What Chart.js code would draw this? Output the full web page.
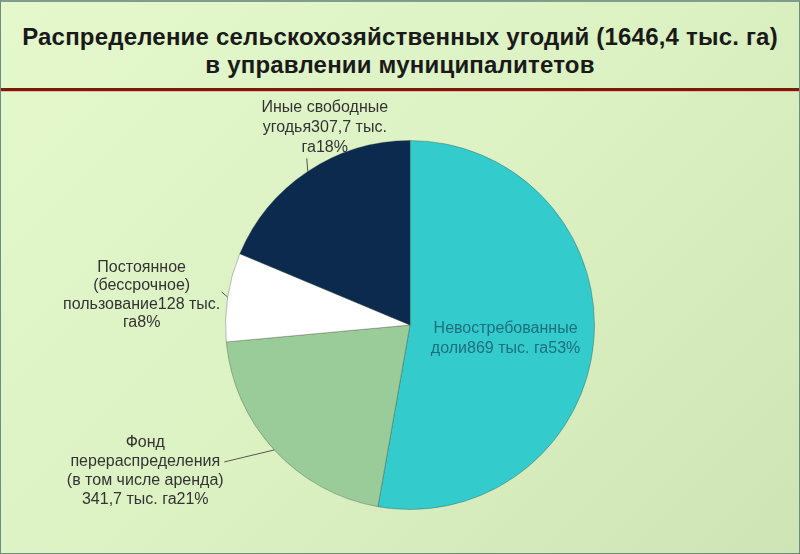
<!DOCTYPE html>
<html><head><meta charset="utf-8">
<script src="https://cdn.jsdelivr.net/npm/chart.js@4"></script>
<style>
html,body{margin:0;padding:0;}
body{width:800px;height:554px;position:relative;overflow:hidden;
 background:linear-gradient(135deg,#e4f8cc 0%,#dcf2c3 50%,#cfe4b4 100%);font-family:"Liberation Sans",Arial,sans-serif;}
#frame{position:absolute;left:0;top:0;width:798px;height:551px;border-left:1px solid #6f8c80;border-right:1px solid #6f8c80;border-top:2px solid #7f9c8c;border-bottom:2px solid #6f8c80;pointer-events:none;}
#title{position:absolute;left:0;top:23px;width:800px;text-align:center;font-weight:bold;font-size:24px;line-height:28px;color:#1a1a1a;letter-spacing:0.2px;}
#rule{position:absolute;left:1px;top:88px;width:798px;height:3px;background:#7a1a08;border-bottom:1px solid #e8b8a0;}
#c{position:absolute;left:0;top:0;}
</style></head>
<body>
<div id="title">Распределение сельскохозяйственных угодий (1646,4 тыс. га)<br>в управлении муниципалитетов</div>
<div id="rule"></div>
<canvas id="c" width="800" height="554"></canvas>
<div id="frame"></div>
<script>
const categories = ["Невостребованные доли", "Фонд перераспределения (в том числе аренда)", "Постоянное (бессрочное) пользование", "Иные свободные угодья"];
const values = [869, 341.7, 128, 307.7];
const percents = [53, 21, 8, 18];
const labelLines = [
  ["Невостребованные", "доли869 тыс. га53%"],
  ["Фонд", "перераспределения", "(в том числе аренда)", "341,7 тыс. га21%"],
  ["Постоянное", "(бессрочное)", "пользование128 тыс.", "га8%"],
  ["Иные свободные", "угодья307,7 тыс.", "га18%"]
];
const colors = ["#33cbcc", "#99cc99", "#ffffff", "#0b2a4e"];

// label placement relative to the slice's outer edge point at its mid angle
const labelLayout = [
  {inside:true, rf:0.52, dy:5, lh:20, color:"#1d6f80"},
  {tx:-129, ty:21, lx:-50, ly:12, lh:19, color:"#333333"},
  {tx:-86, ty:-2, lx:-6, ly:-5, lh:18.5, color:"#333333"},
  {tx:17, ty:-44, lx:-1, ly:-13, lh:20, color:"#333333"}
];

const labelPlugin = {
  id:'sliceLabels',
  afterDatasetsDraw(chart){
    const ctx = chart.ctx;
    const meta = chart.getDatasetMeta(0);
    ctx.save();
    ctx.font = '16px "Liberation Sans", Arial, sans-serif';
    ctx.textAlign = 'center';
    ctx.textBaseline = 'middle';
    meta.data.forEach((arc, i) => {
      const p = arc.getProps(['x','y','startAngle','endAngle','outerRadius'], true);
      const mid = (p.startAngle + p.endAngle)/2;
      const L = labelLayout[i];
      const lines = labelLines[i];
      const lh = L.lh;
      let cx, cy;
      if (L.inside) {
        cx = p.x + Math.cos(mid)*p.outerRadius*L.rf;
        cy = p.y + Math.sin(mid)*p.outerRadius*L.rf + L.dy;
      } else {
        const ex = p.x + Math.cos(mid)*p.outerRadius;
        const ey = p.y + Math.sin(mid)*p.outerRadius;
        ctx.strokeStyle = '#555';
        ctx.lineWidth = 1;
        ctx.beginPath();
        ctx.moveTo(ex, ey);
        ctx.lineTo(ex + L.lx, ey + L.ly);
        ctx.stroke();
        cx = ex + L.tx; cy = ey + L.ty;
      }
      ctx.fillStyle = L.color;
      const y0 = cy - (lines.length-1)*lh/2;
      lines.forEach((t, k) => ctx.fillText(t, cx, y0 + k*lh));
    });
    ctx.restore();
  }
};

new Chart(document.getElementById('c'), {
  type: 'pie',
  data: {
    labels: categories,
    datasets: [{
      data: values,
      backgroundColor: colors,
      borderColor: 'rgba(60,70,60,0.35)',
      borderWidth: 1
    }]
  },
  options: {
    responsive: false,
    animation: false,
    layout: {padding: {left: 225, right: 205, top: 140, bottom: 44}},
    plugins: {legend: {display: false}, tooltip: {enabled: false}, title: {display: false}}
  },
  plugins: [labelPlugin]
});
</script>
</body></html>
